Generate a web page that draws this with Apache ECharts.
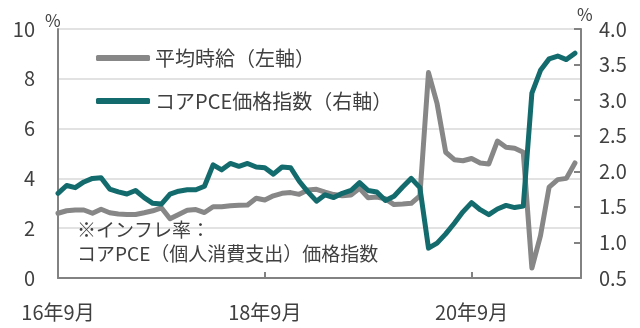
<!DOCTYPE html>
<html>
<head>
<meta charset="utf-8">
<script src="https://cdn.jsdelivr.net/npm/echarts@6/dist/echarts.min.js"></script>
<style>
  html, body { margin: 0; padding: 0; background: #fff; }
  #chart { width: 640px; height: 328px; }
</style>
</head>
<body>
<div id="chart"></div>
<script>
// Monthly series, Sep 2016 – Sep 2021 (index 0 = 2016-09)
const startYear = 2016;
const startMonth = 9;
const monthCount = 61;
const months = [];
for (let k = 0; k < monthCount; k++) {
  const m = startMonth - 1 + k;
  months.push((startYear + Math.floor(m / 12)) + '-' + String(m % 12 + 1).padStart(2, '0'));
}

// Average hourly earnings, YoY % (left axis)
const wageGrowth = [
  2.60, 2.70, 2.73, 2.73, 2.60, 2.76, 2.62, 2.57, 2.55, 2.55,
  2.62, 2.70, 2.82, 2.38, 2.55, 2.72, 2.75, 2.63, 2.86, 2.86,
  2.90, 2.92, 2.93, 3.20, 3.13, 3.30, 3.40, 3.43, 3.36, 3.53,
  3.56, 3.45, 3.35, 3.30, 3.33, 3.60, 3.22, 3.25, 3.18, 2.95,
  2.97, 3.00, 3.30, 8.25, 7.00, 5.05, 4.75, 4.71, 4.80, 4.62,
  4.58, 5.50, 5.25, 5.21, 5.05, 0.40, 1.70, 3.65, 3.95, 4.00,
  4.62
];

// Core PCE price index, YoY % (right axis)
const corePce = [
  1.69, 1.80, 1.77, 1.85, 1.90, 1.91, 1.75, 1.71, 1.68, 1.73,
  1.63, 1.55, 1.54, 1.68, 1.72, 1.74, 1.74, 1.79, 2.09, 2.02,
  2.11, 2.07, 2.11, 2.06, 2.05, 1.96, 2.06, 2.05, 1.86, 1.71,
  1.58, 1.67, 1.63, 1.69, 1.73, 1.84, 1.73, 1.71, 1.59, 1.65,
  1.78, 1.90, 1.77, 0.92, 0.99, 1.12, 1.27, 1.43, 1.56, 1.46,
  1.39, 1.47, 1.52, 1.49, 1.51, 3.10, 3.42, 3.58, 3.62, 3.57,
  3.66
];

const seriesNames = ['平均時給（左軸）', 'コアPCE価格指数（右軸）'];
const xTickLabels = ['16年9月', '18年9月', '20年9月'];
const xTickStep = 24;
const noteLines = ['※インフレ率：', 'コアPCE（個人消費支出）価格指数'];

const FONT = '"Noto Sans CJK JP", "Noto Sans", sans-serif';
const TEXT = '#404040';
const AXIS = '#828282';

const toPairs = arr => arr.map((v, i) => [i, v]);

const chart = echarts.init(document.getElementById('chart'), null, { renderer: 'canvas' });

chart.setOption({
  animation: false,
  backgroundColor: '#ffffff',
  textStyle: { fontFamily: FONT },
  grid: { left: 58, right: 59, top: 29, bottom: 50 },
  legend: {
    orient: 'vertical',
    left: 91,
    top: 42,
    itemWidth: 54,
    itemHeight: 6,
    itemGap: 21,
    icon: 'roundRect',
    textStyle: { fontFamily: FONT, fontSize: 20, color: TEXT, lineHeight: 22 },
    data: seriesNames
  },
  xAxis: {
    type: 'value',
    min: 0,
    max: 60.7,
    interval: xTickStep,
    axisLine: { show: true, lineStyle: { color: AXIS, width: 2 } },
    axisTick: { show: true, inside: true, length: 6, lineStyle: { color: AXIS, width: 2 } },
    splitLine: { show: false },
    axisLabel: {
      fontFamily: FONT,
      fontSize: 20,
      color: TEXT,
      margin: 24,
      formatter: v => (v % xTickStep === 0 && xTickLabels[v / xTickStep]) || ''
    }
  },
  yAxis: [
    {
      type: 'value',
      min: 0,
      max: 10,
      interval: 2,
      axisLine: { show: true, lineStyle: { color: AXIS, width: 2 } },
      axisTick: { show: false },
      splitLine: { show: true, lineStyle: { color: '#d9d9d9', width: 1.5 } },
      axisLabel: { fontFamily: FONT, fontSize: 20, color: TEXT, margin: 23 }
    },
    {
      type: 'value',
      min: 0.5,
      max: 4.0,
      interval: 0.5,
      position: 'right',
      axisLine: { show: true, lineStyle: { color: AXIS, width: 2 } },
      axisTick: { show: true, inside: true, length: 7, lineStyle: { color: AXIS, width: 2 } },
      splitLine: { show: false },
      axisLabel: {
        fontFamily: FONT, fontSize: 20, color: TEXT, margin: 18,
        formatter: v => v.toFixed(1)
      }
    }
  ],
  graphic: [
    { type: 'text', left: 45, top: 12, style: { text: '%', font: '17px ' + FONT, fill: TEXT } },
    { type: 'text', left: 577, top: 6, style: { text: '%', font: '17px ' + FONT, fill: TEXT } },
    { type: 'text', left: 77, top: 220, z: 10, style: { text: noteLines[0], font: '19px ' + FONT, fill: TEXT } },
    { type: 'text', left: 77, top: 244, z: 10, style: { text: noteLines[1], font: '19px ' + FONT, fill: TEXT } }
  ],
  series: [
    {
      name: seriesNames[0],
      type: 'line',
      yAxisIndex: 0,
      showSymbol: false,
      symbol: 'none',
      color: '#878787',
      lineStyle: { width: 5, color: '#878787', cap: 'round', join: 'round' },
      data: toPairs(wageGrowth)
    },
    {
      name: seriesNames[1],
      type: 'line',
      yAxisIndex: 1,
      showSymbol: false,
      symbol: 'none',
      color: '#136b6d',
      lineStyle: { width: 5, color: '#136b6d', cap: 'round', join: 'round' },
      data: toPairs(corePce)
    }
  ]
});
</script>
</body>
</html>
